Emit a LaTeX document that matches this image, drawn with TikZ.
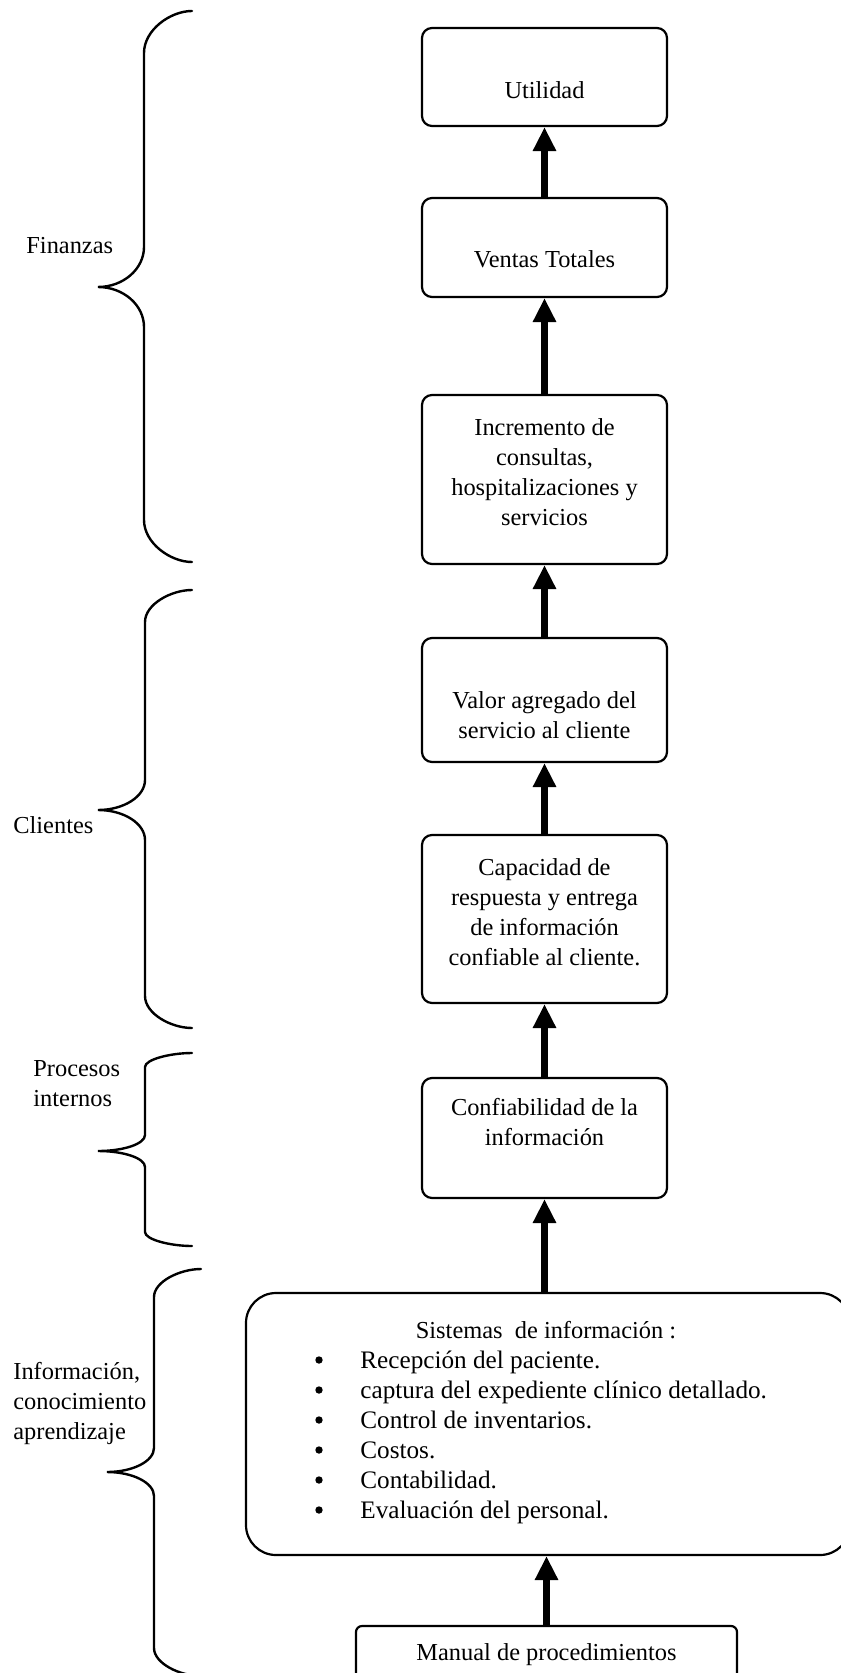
\documentclass[tikz,border=0pt]{standalone}
\usepackage{fontspec}
\setmainfont{Liberation Serif}
\usetikzlibrary{arrows.meta,fit}

% curly brace opening to the right: end x, line x, tip x, top y, tip y, bottom y,
% height of the end curves, height of the tip curves
\newcommand\BraceLine[8]{%
  \draw[brace] (#1,#4) .. controls ({#2+0.55*(#1-#2)},#4) and (#2,{#4+0.45*#7}) .. (#2,{#4+#7})
    -- (#2,{#5-#8}) .. controls (#2,{#5-0.45*#8}) and ({#3+0.55*(#2-#3)},#5) .. (#3,#5)
    .. controls ({#3+0.55*(#2-#3)},#5) and (#2,{#5+0.45*#8}) .. (#2,{#5+#8})
    -- (#2,{#6-#7}) .. controls (#2,{#6-0.45*#7}) and ({#2+0.55*(#1-#2)},#6) .. (#1,#6);}

\begin{document}
\begin{tikzpicture}[x=0.5pt,y=-0.5pt,
  box/.style={draw,line width=1.1pt,rounded corners=5pt,inner sep=0pt},
  txt/.style={inner sep=0pt,anchor=north,align=center,font={\fontsize{12.2}{15}\selectfont}},
  lbl/.style={inner sep=0pt,anchor=north west,align=left,font={\fontsize{12.2}{15}\selectfont}},
  itm/.style={inner sep=0pt,anchor=base west,font={\fontsize{12.6}{15}\selectfont}},
  dot/.style={circle,fill,inner sep=0pt,minimum size=3.7pt},
  up/.style={line width=3.6pt,-{Triangle[width=11pt,length=12pt]}},
  brace/.style={line width=1.2pt,line cap=round}]

\fill[white] (0,0) rectangle (840,1673);
\useasboundingbox (0,0) rectangle (840,1673);

% boxes
\node[box,fit={(422,28) (667,126)}] (util) {};
\node[box,fit={(422,198) (667,297)}] (ventas) {};
\node[box,fit={(422,395) (667,564)}] (incr) {};
\node[box,fit={(422,638) (667,762)}] (valor) {};
\node[box,fit={(422,835) (667,1003)}] (capac) {};
\node[box,fit={(422,1078) (667,1198)}] (confi) {};
\node[box,rounded corners=15pt,fit={(246,1293) (850,1555)}] (sist) {};
\node[box,rounded corners=3pt,fit={(356,1626) (737,1700)}] (manual) {};

% box texts
\node[txt] (tutil) at (544.5,77) {\strut Utilidad};
\node[txt] (tventas) at (544.5,246) {\strut Ventas Totales};
\node[txt] (tincr) at (544.5,414) {\strut Incremento de\\consultas,\\hospitalizaciones y\\servicios};
\node[txt] (tvalor) at (544.5,687) {\strut Valor agregado del\\servicio al cliente};
\node[txt] (tcapac) at (544.5,854) {\strut Capacidad de\\respuesta y entrega\\de información\\confiable al cliente.};
\node[txt] (tconfi) at (544.5,1094) {\strut Confiabilidad de la\\información};
\node[txt] (tsist) at (546,1317) {\strut Sistemas\ \ de información :};
\foreach \t [count=\k] in {Recepción del paciente.,
    captura del expediente clínico detallado.,
    Control de inventarios.,Costos.,Contabilidad.,Evaluación del personal.}{
  \node[dot] (b\k) at (319,{1330+30*\k}) {};
  \node[itm] (i\k) at (360,{1338+30*\k}) {\t};
}
\node[txt] (tmanual) at (546.5,1639) {\strut Manual de procedimientos};

% arrows
\draw[up] (ventas.north) -- (util.south);
\draw[up] (incr.north) -- (ventas.south);
\draw[up] (valor.north) -- (incr.south);
\draw[up] (capac.north) -- (valor.south);
\draw[up] (confi.north) -- (capac.south);
\draw[up] (confi.south |- sist.north) -- (confi.south);
\draw[up] (manual.north) -- (manual.north |- sist.south);

% braces
\BraceLine{192}{144}{98}{11}{287}{562}{42}{40}
\BraceLine{192}{145}{98}{590}{810}{1028}{32}{30}
\BraceLine{192}{145}{98}{1053}{1151}{1246}{14}{16}
\BraceLine{201}{154}{107}{1269}{1472}{1676}{28}{24}

% perspective labels
\node[lbl] (lfin) at (26,232) {\strut Finanzas};
\node[lbl] (lcli) at (13,812) {\strut Clientes};
\node[lbl] (lpro) at (33,1055) {\strut Procesos\\internos};
\node[lbl] (linf) at (13,1358) {\strut Información,\\conocimiento\\aprendizaje};
\end{tikzpicture}
\end{document}
